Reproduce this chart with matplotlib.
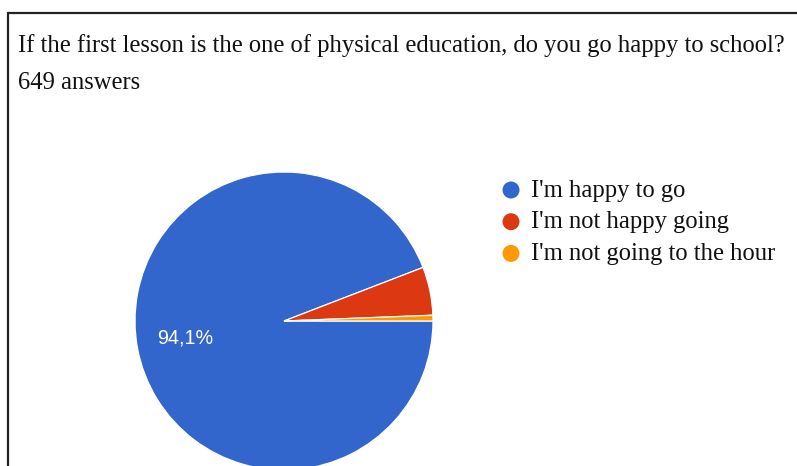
import matplotlib
matplotlib.use("Agg")
import matplotlib.pyplot as plt
from matplotlib.patches import Circle

title = "If the first lesson is the one of physical education, do you go happy to school?"
subtitle = "649 answers"
categories = ["I'm happy to go", "I'm not happy going", "I'm not going to the hour"]
counts = [611, 34, 4]
colors = ["#3366CC", "#DC3912", "#FF9900"]

W, H = 797, 466
fig = plt.figure(figsize=(W / 100, H / 100), dpi=100)
ax = fig.add_axes([0, 0, 1, 1])
ax.set_xlim(0, W)
ax.set_ylim(0, H)
ax.axis("off")

def Y(y):
    return H - y

serif = ["Liberation Serif", "DejaVu Serif"]

# border (left and top)
ax.plot([8.5, 8.5, W + 5], [Y(H + 5), Y(12.5), Y(12.5)], color="#222222", lw=1.6,
        solid_joinstyle="miter", clip_on=False)

# title texts
fig.canvas.draw()
r = fig.canvas.get_renderer()
t = ax.text(18, Y(52), title, fontsize=15, family=serif, color="#111111", va="baseline")
w = t.get_window_extent(r).width
fs_title = 15 * 773 / w
t.set_fontsize(fs_title)
ax.text(18, Y(89), subtitle, fontsize=fs_title, family=serif, color="#111111", va="baseline")

# pie
cx, cy, rad = 284, Y(321), 149
total = sum(counts)
wedges, _ = ax.pie(counts, colors=colors, startangle=0, counterclock=False,
                   center=(cx, cy), radius=rad, frame=True,
                   wedgeprops=dict(edgecolor="white", linewidth=0.9))
ax.set_xlim(0, W)
ax.set_ylim(0, H)
ax.set_aspect("equal")
ax.axis("off")

pct = counts[0] / total * 100
ax.text(185.5, Y(338), f"{pct:.1f}%".replace(".", ","), fontsize=14.2,
        family=["Liberation Sans", "DejaVu Sans"], color="white",
        ha="center", va="center")

# legend
lg_fs = fs_title
for i, (lab, col) in enumerate(zip(categories, colors)):
    yb = 196.5 + i * 31.7
    ax.add_patch(Circle((511, Y(yb - 6.5)), 8.5, color=col, lw=0))
    ax.text(531, Y(yb), lab, fontsize=lg_fs, family=serif, color="#111111", va="baseline")

fig.savefig("out.png", dpi=100)
